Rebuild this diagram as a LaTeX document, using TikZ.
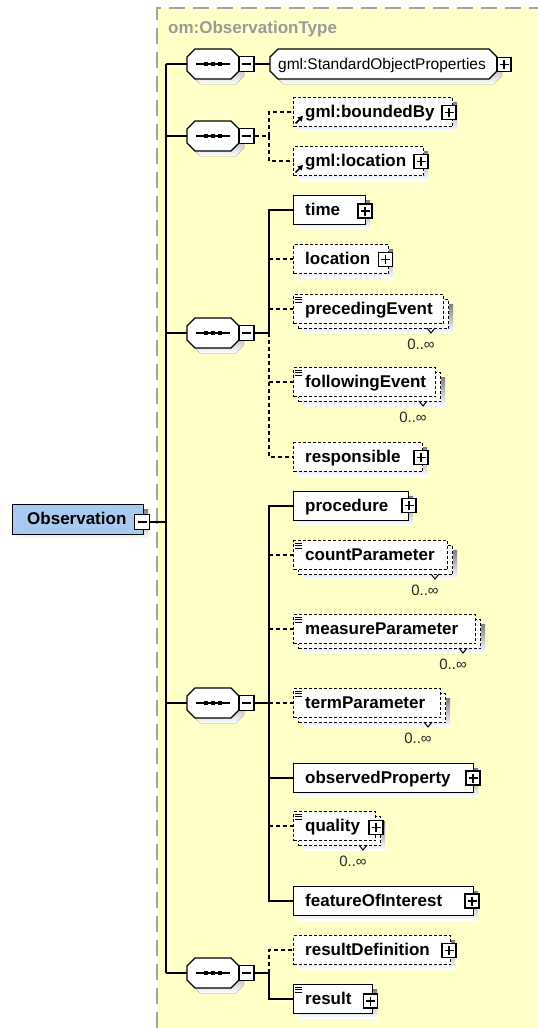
\documentclass[tikz,border=0pt]{standalone}
\usepackage{fontspec}
\setmainfont{Liberation Sans}
\usetikzlibrary{arrows.meta,calc}

\definecolor{panel}{HTML}{FFFFC8}
\definecolor{panelgray}{HTML}{A4A4A4}
\definecolor{shade}{HTML}{BCBCBC}
\definecolor{obsfill}{HTML}{A8CAF0}
\definecolor{typegray}{HTML}{9A9A9A}

\tikzset{
  wire/.style={line width=1.4pt, black},
  optwire/.style={wire, dash pattern=on 4pt off 3pt},
  ebox/.style={draw, fill=white, line width=1.3pt, inner sep=0pt},
  optbox/.style={ebox, dash pattern=on 3pt off 2pt},
  seqline/.style={draw=black, fill=white, line width=1.3pt},
  anchorbox/.style={draw=none, inner sep=0pt},
  etext/.style={font=\fontsize{17}{20}\selectfont\bfseries, inner sep=0pt, anchor=base west},
  gtext/.style={font=\fontsize{15.5}{18}\selectfont, inner sep=0pt, anchor=base west},
  typelabel/.style={font=\fontsize{17}{20}\selectfont\bfseries, text=typegray, inner sep=0pt, anchor=base west},
  occurs/.style={font=\fontsize{15}{18}\selectfont, text=black!85, inner sep=0pt, anchor=base},
  tick/.style={line width=1pt, black},
  panel border/.style={draw=panelgray, line width=2pt, dash pattern=on 16pt off 8pt},
  mbox/.style={draw, solid, fill=white, line width=1.2pt, minimum width=15pt, minimum height=15pt, inner sep=0pt,
    path picture={\draw[line width=1.2pt] ([xshift=3pt]path picture bounding box.west) -- ([xshift=-3pt]path picture bounding box.east);}},
  pbox/.style={draw, solid, fill=white, line width=1.2pt, minimum width=14pt, minimum height=14pt, inner sep=0pt,
    path picture={\draw[line width=1.2pt] ([xshift=2.5pt]path picture bounding box.west) -- ([xshift=-2.5pt]path picture bounding box.east);
                  \draw[line width=1.2pt] ([yshift=-2.5pt]path picture bounding box.north) -- ([yshift=2.5pt]path picture bounding box.south);}},
}

% octagon outline between (x1,y1) and (x2,y2) with corner cut c
\newcommand\octpath[5]{(#1+#5,#2) -- (#3-#5,#2) -- (#3,#2+#5) -- (#3,#4-#5) -- (#3-#5,#4) -- (#1+#5,#4) -- (#1,#4-#5) -- (#1,#2+#5) -- cycle}

% sequence compositor: name, centre y
\newcommand\seqnode[2]{%
  \fill[shade] \octpath{192}{#2-10}{244}{#2+20}{8};
  \filldraw[seqline] \octpath{187}{#2-15}{239}{#2+15}{8};
  \node[anchorbox, minimum width=52pt, minimum height=30pt] (#1) at (213,#2) {};
  \draw[line width=1.3pt] (196,#2) -- (230,#2);
  \foreach \dx in {206,213,220} \fill (\dx-2,#2-2) rectangle (\dx+2,#2+2);
  \node[mbox] (#1-m) at (246.5,#2) {};
}

% single element: name, top y, right x, box style, label
\newcommand\elem[5]{%
  \pgfmathsetmacro\boxw{#3-293}%
  \fill[shade] (298,#2+5) rectangle (#3+5,#2+34);
  \node[#4, anchor=north west, minimum width=\boxw pt, minimum height=29pt] (#1) at (293,#2) {};
  \node[etext] (#1-t) at (305,#2+20) {#5};
}

% repeating element (0..unbounded): name, top y, right x, box style, label
\newcommand\multi[5]{%
  \pgfmathsetmacro\boxw{#3-293}%
  \fill[shade] (303,#2+10) rectangle (#3+10,#2+39);
  \node[#4, anchor=north west, minimum width=\boxw pt, minimum height=29pt] (#1-b) at (298,#2+5) {};
  \node[#4, anchor=north west, minimum width=\boxw pt, minimum height=29pt] (#1) at (293,#2) {};
  \draw[tick] (#3-16,#2+34) -- (#3-12,#2+39) -- (#3-8,#2+34);
  \listicon{#2}
  \node[etext] (#1-t) at (305,#2+20) {#5};
  \node[occurs] (#1-n) at (#3-22,#2+55) {0..∞};
}

% simple-content marker in the top left corner
\newcommand\listicon[1]{\draw[line width=0.9pt] (295,#1+3) -- (302,#1+3) (295,#1+5.5) -- (302,#1+5.5) (295,#1+8) -- (302,#1+8);}

% reference marker in the bottom left corner
\newcommand\refmark[1]{\draw[line width=1.6pt,-{Triangle[length=5pt,width=5.5pt]}] (295.5,#1+26.5) -- (303,#1+19);}

\begin{document}
\begin{tikzpicture}[x=1pt,y=-1pt]
\useasboundingbox (0,0) rectangle (538,1028);
\fill[white] (0,0) rectangle (538,1028);

% complex type panel
\fill[panel] (157,8) rectangle (538,1028);
\draw[panel border] (157,1028) -- (157,8) -- (538,8);
\node[typelabel] (typename) at (168,33.5) {om:ObservationType};

% root element
\fill[shade] (17,509) rectangle (148,539);
\node[draw, fill=obsfill, line width=1.3pt, inner sep=0pt, anchor=north west, minimum width=131pt, minimum height=30pt] (obs) at (12,504) {};
\node[etext] (obs-t) at (27,524.5) {Observation};
\node[mbox] (obs-m) at (142,522) {};

% sequence compositors
\seqnode{s1}{64}
\seqnode{s2}{136}
\seqnode{s3}{333}
\seqnode{s4}{703}
\seqnode{s5}{973}

% group reference
\fill[shade] \octpath{275}{54}{502}{84}{8};
\filldraw[seqline] \octpath{270}{49}{497}{79}{8};
\node[anchorbox, minimum width=227pt, minimum height=30pt] (grp) at (383.5,64) {};
\node[gtext] (grp-t) at (278,69) {gml:StandardObjectProperties};
\node[pbox] (grp-p) at (504,64.5) {};

% second sequence
\elem{boundedBy}{97}{452}{optbox}{gml:boundedBy}
\refmark{97}
\node[pbox] (boundedBy-p) at (449,112.5) {};
\elem{gloc}{146}{423}{optbox}{gml:location}
\refmark{146}
\node[pbox] (gloc-p) at (421,161.5) {};

% third sequence
\elem{time}{195}{365}{ebox}{time}
\node[pbox] (time-p) at (365,211) {};
\elem{loc}{244}{388}{optbox}{location}
\node[pbox] (loc-p) at (385.5,259.5) {};
\multi{precedingEvent}{294}{443}{optbox}{precedingEvent}
\multi{followingEvent}{367}{435}{optbox}{followingEvent}
\elem{responsible}{442}{422}{optbox}{responsible}
\node[pbox] (responsible-p) at (421,457.5) {};

% fourth sequence
\elem{procedure}{491}{408}{ebox}{procedure}
\node[pbox] (procedure-p) at (409,505.5) {};
\multi{countParameter}{540}{447}{optbox}{countParameter}
\multi{measureParameter}{614}{475}{optbox}{measureParameter}
\multi{termParameter}{688}{440}{optbox}{termParameter}
\elem{observedProperty}{763}{473}{ebox}{observedProperty}
\node[pbox] (observedProperty-p) at (473,778) {};
\multi{quality}{811}{375}{optbox}{quality}
\node[pbox] (quality-p) at (376,827.5) {};
\elem{featureOfInterest}{886}{473}{ebox}{featureOfInterest}
\node[pbox] (featureOfInterest-p) at (472,901) {};

% fifth sequence
\elem{resultDefinition}{935}{450}{optbox}{resultDefinition}
\node[pbox] (resultDefinition-p) at (449,950.5) {};
\elem{result}{984}{372}{ebox}{result}
\listicon{984}
\node[pbox] (result-p) at (370.5,1001) {};

% trunk from the root element to the compositors
\coordinate (trunkT) at (166,64);
\coordinate (trunkB) at (166,973);
\draw[wire] (trunkT) -- (trunkB);
\draw[wire] (obs-m.east) -- (obs-m.east -| trunkT);
\foreach \s in {s1,s2,s3,s4,s5} \draw[wire] (\s.west -| trunkT) -- (\s.west);

% first sequence
\draw[wire] (s1-m.east) -- (grp.west);

% second sequence
\coordinate (br2) at (269,136);
\draw[optwire] (s2-m.east) -- (br2);
\draw[optwire] (br2) |- (boundedBy.west);
\draw[optwire] (br2) |- (gloc.west);

% third sequence
\coordinate (br3) at (269,333);
\draw[wire] (s3-m.east) -- (br3);
\draw[wire] (br3) |- (time.west);
\draw[optwire] (br3) |- (responsible.west);
\foreach \e in {loc,precedingEvent,followingEvent} \draw[optwire] (\e.west -| br3) -- (\e.west);

% fourth sequence
\coordinate (br4) at (269,703);
\draw[wire] (s4-m.east) -- (br4);
\draw[wire] (br4) |- (procedure.west);
\draw[wire] (br4) |- (featureOfInterest.west);
\draw[wire] (observedProperty.west -| br4) -- (observedProperty.west);
\foreach \e in {countParameter,measureParameter,termParameter,quality} \draw[optwire] (\e.west -| br4) -- (\e.west);

% fifth sequence
\coordinate (br5) at (269,973);
\draw[wire] (s5-m.east) -- (br5);
\draw[optwire] (br5) |- (resultDefinition.west);
\draw[wire] (br5) |- (result.west);
\end{tikzpicture}
\end{document}
